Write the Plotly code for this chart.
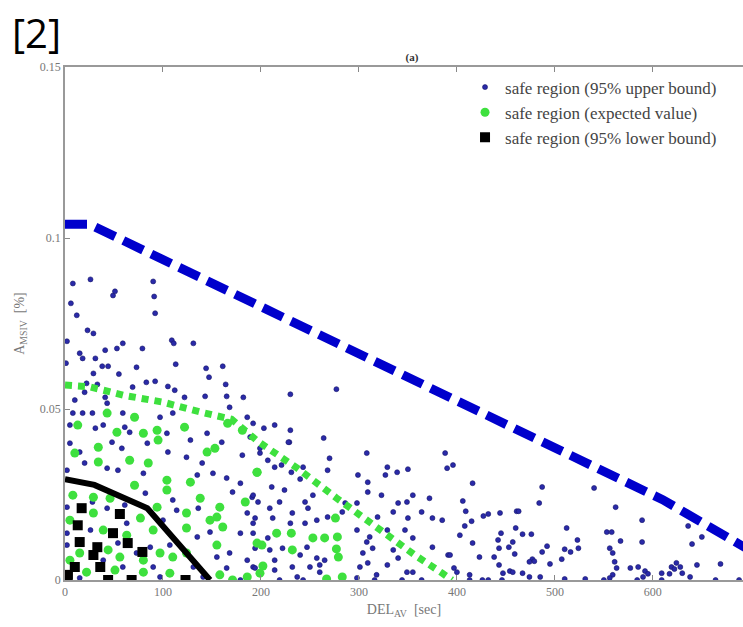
import plotly.graph_objects as go

# ---------------- data ----------------
blue_x = [8, 26, 90, 49, 51, 91, 6, 12, 92, 23, 29, 2, 59, 53, 41, 79, 109, 111, 131, 15, 18, 31, 1, 38, 44, 73, 113, 144, 161, 29, 55, 147, 22, 33, 83, 92, 105, 112, 69, 164, 143, 165, 182, 122, 20, 10, 43, 41, 8, 18, 28, 59, 110, 168, 186, 97,
          230, 277, 192, 203, 214, 230, 229, 264,
          5, 31, 39, 61, 66, 104, 128, 145, 160, 5, 15, 48, 58, 84, 105, 124, 140, 151, 181, 189, 20, 43, 54, 80, 2, 135, 165, 179, 2, 28, 43, 61, 82, 110, 114, 136, 171, 191, 186, 192, 2, 26, 63, 100, 135, 148, 179, 2, 54, 73, 87, 107, 155, 168, 186, 39, 59, 90, 131, 165, 192, 15, 97, 141, 179,
          228, 308, 388, 199, 199, 270, 207, 214, 221, 231, 243, 268, 299, 329, 327, 339, 350, 390, 240, 211, 224, 309, 309, 323, 355, 372, 192, 197, 219, 245, 253, 286, 298, 340, 349, 209, 232, 248, 268, 283, 319, 335, 364, 350, 375, 385, 194, 212, 230, 245, 257, 298, 311, 329, 347, 355, 308, 314, 192, 207, 194, 209, 222, 247, 240, 257, 265, 304, 335, 340, 375, 391, 214, 232, 250, 260, 301, 309, 329, 349, 355, 214, 194, 237, 243, 260, 298, 318, 316, 219, 344, 364,
          396, 416, 487, 540, 406, 484, 562, 409, 427, 432, 444, 461, 463, 415, 408, 589, 512, 636, 460, 445, 467, 476, 403, 553, 558, 650, 442, 457, 523, 416, 567, 589, 640, 453, 492, 443, 510, 516, 524, 556, 487, 459, 559, 423, 438, 477, 479, 507, 393, 495, 474, 561, 624, 645, 669, 443, 397, 400, 563, 577, 585, 592, 595, 619, 622, 628, 630, 617, 609, 638, 454, 457, 467, 447, 474, 485, 413, 559, 556, 590, 609, 413, 426, 432, 446, 510, 531, 550, 584, 664, 688]
blue_y = [0.0867, 0.0879, 0.0873, 0.0832, 0.0844, 0.0829, 0.0809, 0.0774, 0.078, 0.073, 0.0721, 0.0698, 0.0692, 0.0677, 0.0672, 0.0677, 0.0701, 0.0692, 0.0692, 0.0663, 0.0648, 0.0648, 0.0634, 0.0625, 0.0625, 0.0622, 0.0631, 0.0619, 0.0625, 0.0604, 0.0602, 0.0593, 0.0575, 0.0572, 0.0578, 0.0581, 0.0566, 0.0555, 0.0564, 0.0572, 0.0537, 0.0537, 0.0534, 0.0534, 0.0549, 0.0526, 0.0517, 0.0534, 0.0488, 0.0488, 0.0488, 0.0488, 0.0488, 0.0505, 0.0476, 0.0476,
          0.0543, 0.0558, 0.0458, 0.0444, 0.0453, 0.0438, 0.0403, 0.0415,
          0.0453, 0.0444, 0.0453, 0.0447, 0.0432, 0.0429, 0.0409, 0.0429, 0.0403, 0.04, 0.0374, 0.0403, 0.0385, 0.04, 0.0374, 0.0359, 0.0342, 0.0312, 0.0365, 0.0418, 0.0342, 0.0327, 0.0321, 0.0312, 0.0321, 0.0307, 0.0298, 0.0283, 0.0213, 0.0228, 0.021, 0.0219, 0.0254, 0.0234, 0.0204, 0.021, 0.0257, 0.0242, 0.0196, 0.0166, 0.0137, 0.0146, 0.0166, 0.0175, 0.0126, 0.014, 0.0137, 0.0102, 0.0108, 0.0079, 0.0096, 0.0102, 0.0067, 0.0079, 0.0058, 0.0058, 0.0038, 0.0038, 0.0038, 0.0035, 0.0038, 0.0006, 0.0009, 0.0009, 0.0,
          0.0403, 0.0371, 0.0371, 0.0385, 0.0371, 0.0356, 0.035, 0.033, 0.0336, 0.0315, 0.033, 0.0321, 0.0307, 0.033, 0.0307, 0.0315, 0.0324, 0.0327, 0.0295, 0.0272, 0.0263, 0.0286, 0.0257, 0.0248, 0.0248, 0.0239, 0.0248, 0.0228, 0.0228, 0.0228, 0.0248, 0.0225, 0.0225, 0.0225, 0.0228, 0.021, 0.0196, 0.021, 0.0184, 0.0199, 0.0184, 0.0199, 0.0199, 0.0181, 0.0181, 0.0175, 0.0181, 0.0181, 0.0166, 0.0166, 0.0175, 0.0146, 0.0126, 0.0146, 0.0146, 0.0123, 0.0111, 0.0093, 0.0137, 0.0123, 0.0093, 0.0088, 0.0093, 0.0096, 0.0073, 0.0064, 0.0058, 0.0079, 0.0088, 0.0064, 0.0096, 0.0073, 0.0058, 0.0038, 0.0038, 0.0044, 0.0038, 0.005, 0.0044, 0.0023, 0.0023, 0.0029, 0.0035, 0.0009, 0.0, 0.0023, 0.0006, 0.0015, 0.0, 0.0, 0.0, 0.0,
          0.0336, 0.0283, 0.0272, 0.0269, 0.0231, 0.0225, 0.0213, 0.0201, 0.0187, 0.0193, 0.0196, 0.0201, 0.0201, 0.0172, 0.0158, 0.0175, 0.0152, 0.0158, 0.0152, 0.0137, 0.0134, 0.0134, 0.0131, 0.014, 0.014, 0.0126, 0.0117, 0.0111, 0.0117, 0.0108, 0.0114, 0.0111, 0.0105, 0.0096, 0.0099, 0.0093, 0.009, 0.0082, 0.0093, 0.0093, 0.0082, 0.0076, 0.0079, 0.0067, 0.0067, 0.0061, 0.0055, 0.0061, 0.0073, 0.0047, 0.0053, 0.0053, 0.005, 0.0044, 0.0047, 0.0044, 0.0035, 0.0023, 0.0035, 0.0035, 0.0038, 0.0026, 0.0018, 0.0038, 0.0032, 0.0038, 0.002, 0.0018, 0.002, 0.0009, 0.0026, 0.0023, 0.002, 0.002, 0.0009, 0.0009, 0.0015, 0.0015, 0.0006, 0.0009, 0.0, 0.0, 0.0, 0.0, 0.0, 0.0003, 0.0003, 0.0, 0.0, 0.0, 0.0]

green_x = [13, 53, 80, 94, 95, 122, 145, 153, 166, 181, 196, 10, 34, 34, 66, 85, 104, 104, 128, 71, 29, 8, 46, 138, 94, 77, 29, 5, 124, 124, 148, 155, 161, 39, 90, 63, 15, 44, 56, 97, 110, 124, 80, 5, 22, 51, 80, 107, 158, 171, 186, 155, 184, 158, 196,
           196, 276, 216, 231, 201, 232, 253, 265, 278, 277, 279, 202, 199, 267, 283, 43, 71]
green_y = [0.0453, 0.0432, 0.0429, 0.0438, 0.0409, 0.0447, 0.0374, 0.0385, 0.0458, 0.0438, 0.0315, 0.0371, 0.0388, 0.0345, 0.035, 0.0342, 0.0292, 0.0263, 0.0286, 0.0277, 0.0242, 0.0248, 0.0239, 0.0239, 0.0213, 0.0181, 0.0196, 0.0175, 0.0196, 0.0152, 0.0175, 0.0184, 0.0155, 0.0146, 0.0146, 0.0131, 0.0079, 0.0088, 0.0067, 0.0079, 0.0067, 0.0079, 0.0058, 0.0058, 0.0023, 0.0029, 0.0023, 0.002, 0.0015, 0.0, 0.0009, 0.0102, 0.0228, 0.0213, 0.0108,
           0.0315, 0.0181, 0.0137, 0.0137, 0.0102, 0.0088, 0.0123, 0.0123, 0.0126, 0.0091, 0.0067, 0.0041, 0.002, 0.0003, 0.0009, 0.0488, 0.0476]

black_x = [17, 56, 13, 15, 49, 33, 64, 79, 29, 10, 36, 3, 2, 44, 68, 123]
black_y = [0.021, 0.0193, 0.016, 0.0111, 0.0137, 0.0096, 0.0108, 0.0082, 0.0073, 0.0038, 0.0038, 0.0015, 0.0, 0.0, 0.0, 0.0]

upper_bound_x = [0, 25, 610, 700]
upper_bound_y = [0.104, 0.104, 0.0235, 0.0085]
expected_x = [0, 25, 60, 100, 140, 170, 197, 237, 277, 317, 357, 385, 395]
expected_y = [0.057, 0.0565, 0.054, 0.052, 0.049, 0.047, 0.0405, 0.0327, 0.024, 0.0155, 0.0073, 0.002, 0.0]
lower_bound_x = [0, 30, 84, 148]
lower_bound_y = [0.0295, 0.0278, 0.021, 0.0]

x_ticks = [0, 100, 200, 300, 400, 500, 600, 700]
y_ticks = [0, 0.05, 0.1, 0.15]
y_tick_text = ["0", "0.05", "0.1", "0.15"]

names = ["safe region (95% upper bound)", "safe region (expected value)", "safe region (95% lower bound)"]

# ---------------- figure ----------------
fig = go.Figure()
fig.add_trace(go.Scatter(x=blue_x, y=blue_y, mode="markers", name=names[0],
                         marker=dict(color="#2a2aa8", size=5, line=dict(width=0.6, color="#15156a"))))
fig.add_trace(go.Scatter(x=green_x, y=green_y, mode="markers", name=names[1],
                         marker=dict(color="#3ee03e", size=9, line=dict(width=0))))
fig.add_trace(go.Scatter(x=black_x, y=black_y, mode="markers", name=names[2],
                         marker=dict(color="black", size=10, symbol="square", line=dict(width=0))))
fig.add_trace(go.Scatter(x=upper_bound_x, y=upper_bound_y, mode="lines", showlegend=False,
                         line=dict(color="#0000cc", width=9, dash="22px,9px")))
fig.add_trace(go.Scatter(x=expected_x, y=expected_y, mode="lines", showlegend=False,
                         line=dict(color="#3ee03e", width=7, dash="7px,6px")))
fig.add_trace(go.Scatter(x=lower_bound_x, y=lower_bound_y, mode="lines", showlegend=False,
                         line=dict(color="black", width=6)))

tick_font = dict(family="Liberation Serif", size=12, color="#777777")
fig.update_layout(
    width=743, height=627,
    margin=dict(l=65, r=0, t=67, b=47),
    paper_bgcolor="white", plot_bgcolor="white",
    showlegend=True,
    legend=dict(x=0.59, y=0.995, xanchor="left", yanchor="top",
                font=dict(family="Liberation Serif", size=17, color="#444444"),
                bgcolor="rgba(255,255,255,0)", itemsizing="trace"),
    title=dict(text="<b>(a)</b>", x=(412) / 743, xanchor="center", y=1 - 57 / 627, yanchor="middle",
               font=dict(family="Liberation Serif", size=11, color="#333333")),
    xaxis=dict(range=[0, 692], tickvals=x_ticks, ticks="inside", ticklen=5, tickcolor="#888888",
               showline=True, linecolor="#999999", linewidth=1.5, mirror="ticks", showgrid=False,
               zeroline=False, tickfont=tick_font,
               title=dict(text="DEL<sub>AV</sub>  [sec]", font=dict(family="Liberation Serif", size=14, color="#777777"),
                          standoff=6)),
    yaxis=dict(range=[0, 0.15], tickvals=y_ticks, ticktext=y_tick_text, ticks="inside", ticklen=5,
               tickcolor="#888888", showline=True, linecolor="#999999", linewidth=1.5, mirror=False,
               showgrid=False, zeroline=False, tickfont=tick_font,
               title=dict(text="A<sub>MSIV</sub>  [%]", font=dict(family="Liberation Serif", size=14, color="#777777"),
                          standoff=12)),
)
fig.add_annotation(text="[2]", xref="paper", yref="paper", x=-65 / 678, y=1 + (67 - 32) / 513,
                   xanchor="left", yanchor="middle", xshift=11, showarrow=False, borderpad=0,
                   font=dict(family="Open Sans", size=40, color="black"))

fig.write_html("out.html")
